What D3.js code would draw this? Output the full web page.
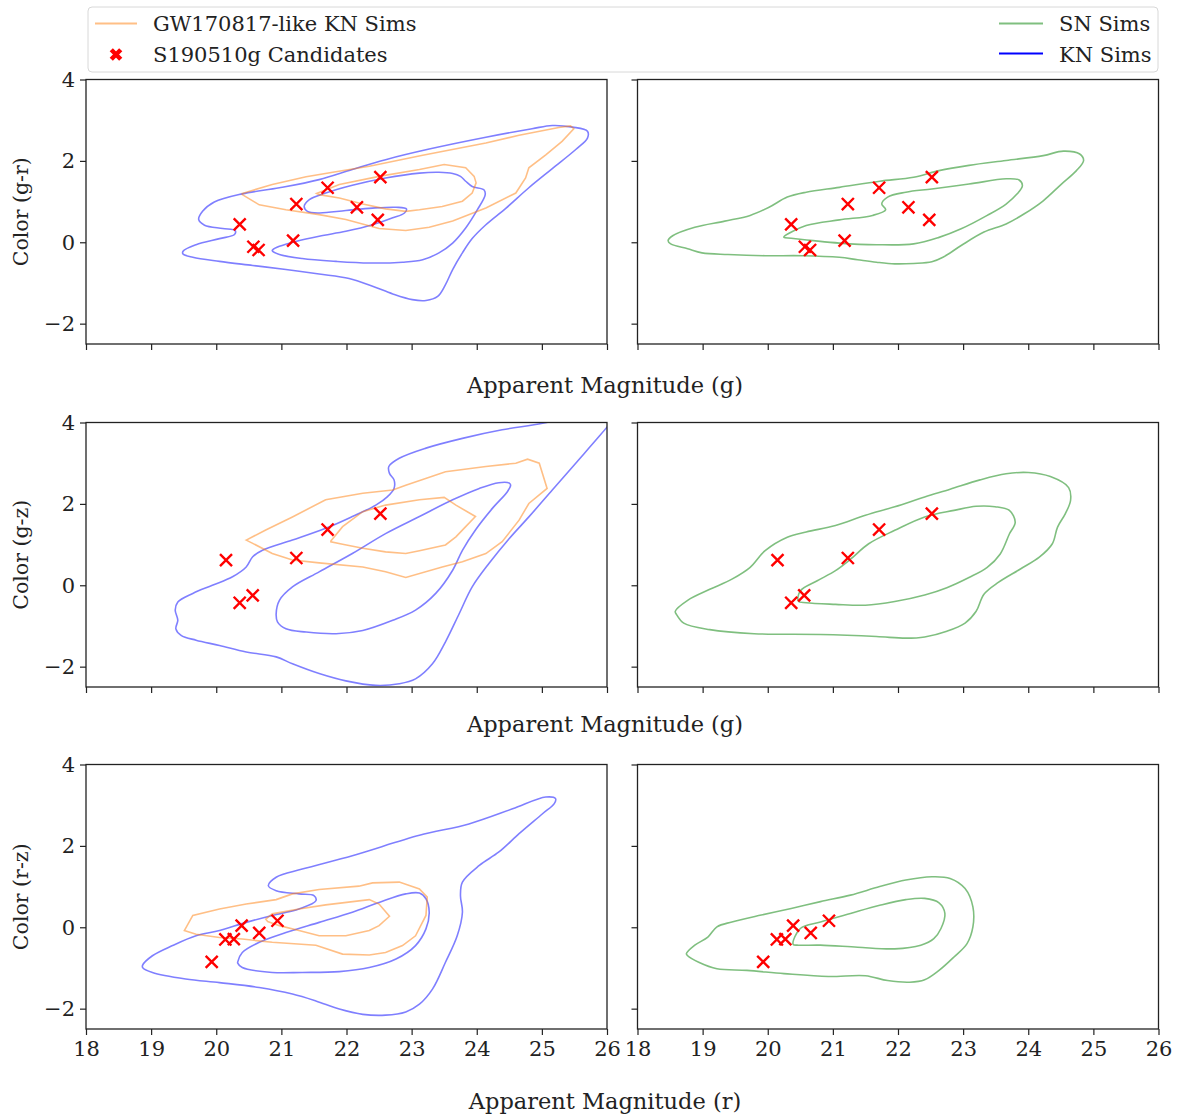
<!DOCTYPE html>
<html>
<head>
<meta charset="utf-8">
<script src="https://cdn.jsdelivr.net/npm/d3@7"></script>
<style>
  body { margin: 0; background: #fff; }
  svg text { font-family: "DejaVu Serif", serif; fill: #222; }
</style>
</head>
<body>
<script>
// axis ticks
var xTicks = [18, 19, 20, 21, 22, 23, 24, 25, 26]
var yTicks = [-2, 0, 2, 4]

// S190510g candidates: [magnitude, color]
var candGR = [[20.36, 0.44], [20.57, -0.11], [20.65, -0.19], [21.18, 0.04], [21.23, 0.94],
              [21.71, 1.34], [22.16, 0.86], [22.48, 0.55], [22.52, 1.60]]
var candGZ = [[20.15, 0.62], [20.36, -0.43], [20.56, -0.25], [21.23, 0.67], [21.71, 1.37], [22.52, 1.76]]
var candRZ = [[19.93, -0.85], [20.14, -0.30], [20.27, -0.29], [20.39, 0.04], [20.66, -0.14], [20.94, 0.16]]

// ---- g vs g-r ----
var knGR_outer = [[19.49,-0.22],[19.69,-0.06],[20.05,0.09],[20.28,0.19],[20.29,0.29],[20.10,0.34],[19.82,0.42],
  [19.73,0.56],[19.79,0.76],[19.97,0.99],[20.40,1.19],[20.97,1.34],[21.58,1.54],[22.09,1.79],[22.60,2.03],
  [23.27,2.29],[24.14,2.58],[24.85,2.79],[25.16,2.87],[25.47,2.83],[25.70,2.73],[25.70,2.56],[25.52,2.28],
  [25.16,1.81],[24.80,1.34],[24.45,0.84],[24.14,0.43],[23.93,0.09],[23.78,-0.26],[23.63,-0.67],[23.52,-1.04],
  [23.40,-1.33],[23.22,-1.43],[23.01,-1.41],[22.71,-1.27],[22.40,-1.08],[22.04,-0.89],[21.58,-0.78],
  [21.07,-0.67],[20.56,-0.57],[20.05,-0.47],[19.64,-0.37],[19.49,-0.29]]
var knGR_inner = [[20.86,-0.21],[20.97,-0.30],[21.32,-0.40],[21.84,-0.47],[22.35,-0.51],[22.86,-0.49],
  [23.17,-0.43],[23.42,-0.26],[23.63,-0.02],[23.83,0.35],[24.01,0.80],[24.13,1.17],[24.11,1.29],[23.93,1.37],
  [23.83,1.50],[23.75,1.62],[23.63,1.69],[23.42,1.72],[23.12,1.70],[22.60,1.58],[22.09,1.40],[21.68,1.21],
  [21.43,1.05],[21.35,0.88],[21.40,0.76],[21.58,0.72],[21.99,0.78],[22.40,0.84],[22.76,0.86],[22.92,0.82],
  [22.89,0.72],[22.71,0.60],[22.40,0.43],[21.99,0.27],[21.58,0.15],[21.22,0.02],[20.97,-0.10],[20.87,-0.18]]
var gwGR_outer = [[20.40,1.20],[20.86,1.42],[21.38,1.61],[21.79,1.72],[22.35,1.87],[23.17,2.14],[24.14,2.44],
  [24.65,2.63],[25.26,2.82],[25.44,2.86],[25.49,2.79],[25.31,2.48],[25.06,2.15],[24.80,1.83],[24.75,1.58],
  [24.60,1.21],[24.14,0.84],[23.63,0.52],[23.27,0.37],[22.91,0.29],[22.50,0.34],[21.99,0.56],[21.58,0.68],
  [21.07,0.80],[20.66,0.92],[20.40,1.17]]
var gwGR_inner = [[21.54,1.20],[21.89,1.42],[22.50,1.62],[23.12,1.79],[23.50,1.91],[23.83,1.83],[23.96,1.62],
  [23.99,1.46],[23.93,1.21],[23.78,1.01],[23.47,0.88],[23.12,0.80],[22.91,0.76],[22.60,0.82],[22.25,0.94],
  [21.89,1.09],[21.58,1.17]]
var snGR_outer = [[18.47,0.04],[18.54,0.16],[18.88,0.37],[19.34,0.52],[19.73,0.66],[20.02,0.86],[20.30,1.11],
  [20.59,1.23],[21.10,1.35],[21.72,1.50],[22.24,1.60],[22.63,1.76],[23.09,1.89],[23.66,2.01],[24.23,2.13],
  [24.54,2.24],[24.79,2.17],[24.85,2.01],[24.74,1.76],[24.51,1.43],[24.23,1.02],[23.94,0.70],[23.66,0.45],
  [23.32,0.25],[22.97,-0.08],[22.69,-0.37],[22.52,-0.48],[22.24,-0.52],[21.95,-0.53],[21.67,-0.49],
  [21.38,-0.43],[21.10,-0.37],[20.53,-0.33],[19.96,-0.33],[19.39,-0.30],[18.99,-0.26],[18.77,-0.16],[18.51,-0.04]]
var snGR_inner = [[20.25,0.14],[20.59,0.41],[21.10,0.55],[21.61,0.66],[21.81,0.80],[21.75,0.94],[21.84,1.11],
  [22.12,1.23],[22.52,1.31],[23.09,1.43],[23.66,1.56],[23.86,1.53],[23.91,1.39],[23.83,1.19],[23.66,0.94],
  [23.37,0.66],[22.97,0.33],[22.63,0.12],[22.24,-0.04],[21.67,-0.06],[21.10,-0.02],[20.70,0.04],[20.36,0.10],
  [20.25,0.12]]

// ---- g vs g-z ----
var knGZ_outer = [[25.42,4.15],[25.01,3.98],[24.39,3.82],[23.78,3.61],[23.22,3.37],[22.81,3.12],[22.65,2.92],
  [22.66,2.75],[22.73,2.59],[22.73,2.38],[22.63,2.18],[22.45,1.97],[22.09,1.69],[21.68,1.40],[21.17,1.11],
  [20.71,0.86],[20.56,0.70],[20.46,0.45],[20.25,0.21],[19.94,0.00],[19.64,-0.20],[19.41,-0.41],[19.37,-0.61],
  [19.41,-0.86],[19.38,-1.07],[19.46,-1.23],[19.69,-1.35],[20.05,-1.48],[20.46,-1.64],[20.92,-1.76],
  [21.17,-1.93],[21.58,-2.17],[21.99,-2.35],[22.45,-2.46],[22.81,-2.42],[23.06,-2.30],[23.32,-1.93],
  [23.52,-1.39],[23.73,-0.70],[23.93,-0.04],[24.19,0.54],[24.50,1.15],[24.80,1.68],[25.16,2.34],[25.52,3.00],
  [25.88,3.66],[26.18,4.23]]
var knGZ_inner = [[24.50,2.51],[24.34,2.52],[24.04,2.38],[23.63,2.10],[23.12,1.69],[22.60,1.27],[22.09,0.78],
  [21.58,0.33],[21.17,-0.04],[20.97,-0.37],[20.92,-0.70],[20.94,-0.90],[21.07,-1.07],[21.38,-1.15],
  [21.84,-1.19],[22.25,-1.11],[22.71,-0.86],[23.06,-0.61],[23.37,-0.20],[23.63,0.37],[23.78,0.86],
  [23.98,1.36],[24.24,1.89],[24.47,2.30],[24.52,2.46]]
var gwGZ_outer = [[20.46,1.11],[20.76,1.36],[21.17,1.68],[21.68,2.10],[22.25,2.26],[22.71,2.34],[22.91,2.46],
  [23.52,2.79],[24.14,2.92],[24.60,3.00],[24.78,3.10],[24.96,3.00],[25.08,2.38],[24.80,2.01],[24.65,1.60],
  [24.39,1.07],[24.14,0.78],[23.78,0.58],[23.47,0.45],[22.91,0.19],[22.60,0.33],[22.25,0.45],[21.58,0.55],
  [21.17,0.62],[20.86,0.78],[20.56,1.03]]
var gwGZ_inner = [[21.76,1.09],[21.94,1.44],[22.25,1.81],[22.60,1.97],[23.12,2.10],[23.50,2.16],[23.68,1.97],
  [23.98,1.69],[23.83,1.44],[23.68,1.19],[23.52,0.99],[23.12,0.85],[22.91,0.78],[22.60,0.82],[22.25,0.91],
  [21.94,1.01],[21.76,1.07]]
var snGZ_outer = [[18.58,-0.64],[18.77,-0.37],[19.11,-0.10],[19.45,0.15],[19.73,0.44],[19.96,0.85],[20.30,1.18],
  [20.59,1.31],[21.04,1.47],[21.50,1.72],[21.95,1.93],[22.41,2.17],[22.80,2.36],[23.26,2.59],[23.66,2.74],
  [24.00,2.77],[24.34,2.67],[24.62,2.40],[24.65,2.09],[24.57,1.76],[24.45,1.43],[24.37,1.02],[24.17,0.69],
  [23.88,0.40],[23.54,0.07],[23.32,-0.22],[23.20,-0.64],[23.03,-0.93],[22.75,-1.13],[22.41,-1.27],
  [22.12,-1.30],[21.67,-1.26],[20.81,-1.21],[19.79,-1.19],[19.11,-1.09],[18.71,-0.93],[18.60,-0.72]]
var snGZ_inner = [[20.47,-0.39],[20.50,-0.14],[20.76,0.11],[21.04,0.36],[21.27,0.64],[21.55,1.02],[21.95,1.35],
  [22.41,1.68],[22.86,1.84],[23.20,1.94],[23.49,1.93],[23.71,1.84],[23.80,1.55],[23.71,1.26],[23.57,0.77],
  [23.37,0.44],[23.09,0.19],[22.75,-0.06],[22.41,-0.24],[21.95,-0.40],[21.50,-0.49],[21.04,-0.47],[20.59,-0.43]]

// ---- r vs r-z ----
var knRZ_outer = [[18.87,-0.93],[19.02,-0.70],[19.33,-0.45],[19.69,-0.21],[20.05,-0.08],[20.46,0.12],[20.86,0.29],
  [21.27,0.45],[21.53,0.65],[21.50,0.78],[21.27,0.82],[20.92,0.90],[20.80,1.02],[20.92,1.23],[21.32,1.43],
  [22.09,1.76],[23.12,2.26],[23.88,2.54],[24.55,2.91],[25.06,3.20],[25.21,3.16],[25.19,3.04],[25.01,2.79],
  [24.65,2.30],[24.34,1.85],[24.04,1.52],[23.78,1.11],[23.75,0.78],[23.78,0.37],[23.70,-0.21],[23.52,-0.86],
  [23.32,-1.52],[23.12,-1.89],[22.91,-2.08],[22.60,-2.16],[22.25,-2.14],[21.89,-2.01],[21.53,-1.81],
  [21.17,-1.64],[20.66,-1.48],[20.05,-1.36],[19.53,-1.27],[19.02,-1.11],[18.87,-0.99]]
var knRZ_inner = [[20.33,-0.85],[20.40,-0.62],[20.66,-0.37],[21.07,-0.13],[21.58,0.12],[22.09,0.37],[22.50,0.61],
  [22.91,0.82],[23.12,0.84],[23.22,0.70],[23.27,0.37],[23.22,-0.04],[23.06,-0.45],[22.76,-0.78],[22.35,-0.99],
  [21.89,-1.09],[21.32,-1.11],[20.86,-1.11],[20.40,-0.99],[20.33,-0.88]]
var gwRZ_outer = [[19.51,-0.08],[19.64,0.29],[20.05,0.45],[20.46,0.57],[20.92,0.68],[21.17,0.82],[21.58,0.93],
  [22.19,1.01],[22.40,1.09],[22.81,1.11],[23.12,0.94],[23.24,0.74],[23.22,0.29],[23.06,-0.21],[22.86,-0.45],
  [22.60,-0.62],[22.35,-0.68],[21.94,-0.66],[21.53,-0.44],[20.86,-0.37],[20.40,-0.29],[20.05,-0.25],[19.69,-0.17]]
var gwRZ_inner = [[20.76,0.20],[20.86,0.33],[21.27,0.45],[21.68,0.55],[22.35,0.68],[22.50,0.57],[22.66,0.27],
  [22.50,0.04],[22.35,-0.08],[21.99,-0.21],[21.58,-0.21],[21.27,-0.08],[20.97,0.04],[20.79,0.14]]
var snRZ_outer = [[18.75,-0.65],[18.88,-0.44],[19.08,-0.24],[19.22,0.01],[19.45,0.13],[19.90,0.30],[20.36,0.46],
  [20.81,0.63],[21.27,0.79],[21.72,1.00],[22.12,1.16],[22.52,1.24],[22.80,1.20],[23.03,0.95],[23.15,0.50],
  [23.15,0.01],[23.06,-0.40],[22.86,-0.73],[22.63,-1.06],[22.41,-1.29],[22.18,-1.35],[21.84,-1.31],
  [21.50,-1.19],[20.93,-1.21],[20.25,-1.14],[19.68,-1.06],[19.22,-1.02],[18.94,-0.86],[18.77,-0.70]]
var snRZ_inner = [[20.39,-0.42],[20.50,-0.03],[20.81,0.13],[21.27,0.34],[21.72,0.54],[22.12,0.68],[22.41,0.71],
  [22.63,0.60],[22.72,0.34],[22.66,-0.03],[22.55,-0.28],[22.35,-0.44],[21.95,-0.53],[21.38,-0.49],
  [20.81,-0.44],[20.47,-0.44]]

var rows = [
  {ylabel: "Color (g-r)", xlabel: "Apparent Magnitude (g)", cand: candGR,
   kn: [knGR_outer, knGR_inner], knOpen: [false, false], gw: [gwGR_outer, gwGR_inner], sn: [snGR_outer, snGR_inner]},
  {ylabel: "Color (g-z)", xlabel: "Apparent Magnitude (g)", cand: candGZ,
   kn: [knGZ_outer, knGZ_inner], knOpen: [true, false], gw: [gwGZ_outer, gwGZ_inner], sn: [snGZ_outer, snGZ_inner]},
  {ylabel: "Color (r-z)", xlabel: "Apparent Magnitude (r)", cand: candRZ,
   kn: [knRZ_outer, knRZ_inner], knOpen: [false, false], gw: [gwRZ_outer, gwRZ_inner], sn: [snRZ_outer, snRZ_inner]}
]

var blue = "rgb(0,0,255)", orange = "#ff7f0e", green = "#008000"

var W = 521, H = 264.5
var colX = [86, 637.5]
var rowY = [79.5, 422.5, 764.5]
var titleY = [392.5, 731.5, 1109]

var svg = d3.select("body").append("svg").attr("width", 1180).attr("height", 1117)

var x = d3.scaleLinear().domain([18, 26]).range([0, W])
var y = d3.scaleLinear().domain([-2.5, 4]).range([H, 0])

var smooth = d3.line().curve(d3.curveCatmullRomClosed.alpha(0.5)).x(function(d) { return x(d[0]) }).y(function(d) { return y(d[1]) })
var smoothOpen = d3.line().curve(d3.curveCatmullRom.alpha(0.5)).x(function(d) { return x(d[0]) }).y(function(d) { return y(d[1]) })
var poly = d3.line().curve(d3.curveLinearClosed).x(function(d) { return x(d[0]) }).y(function(d) { return y(d[1]) })
var cross = d3.symbol().type(d3.symbolTimes).size(96)

svg.append("clipPath").attr("id", "clip").append("rect").attr("width", W).attr("height", H)

rows.forEach(function(row, ri) {
  [0, 1].forEach(function(ci) {
    var g = svg.append("g").attr("transform", "translate(" + colX[ci] + "," + rowY[ri] + ")")
    var plot = g.append("g").attr("clip-path", "url(#clip)")

    if (ci == 0) {
      row.kn.forEach(function(c, k) {
        plot.append("path").attr("d", row.knOpen[k] ? smoothOpen(c) : smooth(c))
          .attr("fill", "none").attr("stroke", blue).attr("stroke-opacity", 0.5).attr("stroke-width", 1.6)
      })
      row.gw.forEach(function(c) {
        plot.append("path").attr("d", poly(c))
          .attr("fill", "none").attr("stroke", orange).attr("stroke-opacity", 0.5).attr("stroke-width", 1.6)
      })
    } else {
      row.sn.forEach(function(c) {
        plot.append("path").attr("d", smooth(c))
          .attr("fill", "none").attr("stroke", green).attr("stroke-opacity", 0.5).attr("stroke-width", 1.6)
      })
    }

    plot.selectAll(".cand").data(row.cand).enter().append("path")
      .attr("transform", function(d) { return "translate(" + x(d[0]) + "," + y(d[1]) + ")" })
      .attr("d", cross).attr("fill", "none").attr("stroke", "red").attr("stroke-width", 2.4)

    // axes
    var xa = d3.axisBottom(x).tickValues(xTicks).tickSize(6).tickPadding(6)
    if (ri < 2) xa.tickFormat("")
    var ya = d3.axisLeft(y).tickValues(yTicks).tickSize(6).tickPadding(5)
      .tickFormat(function(d) { return d < 0 ? "\u2212" + Math.abs(d) : d })
    if (ci == 1) ya.tickFormat("")

    var gx = g.append("g").attr("transform", "translate(0," + H + ")").call(xa)
    var gy = g.append("g").call(ya)
    ;[gx, gy].forEach(function(a) {
      a.select(".domain").remove()
      a.selectAll("line").attr("stroke", "#222").attr("stroke-width", 1.2)
      a.selectAll("text").attr("font-size", 21).attr("font-family", "DejaVu Serif").attr("fill", "#222")
    })

    g.append("rect").attr("width", W).attr("height", H)
      .attr("fill", "none").attr("stroke", "#222").attr("stroke-width", 1.3)
  })

  svg.append("text").attr("x", 605).attr("y", titleY[ri]).attr("text-anchor", "middle")
    .attr("font-size", 22.5).text(row.xlabel)

  svg.append("text")
    .attr("transform", "translate(28," + (rowY[ri] + H / 2) + ") rotate(-90)")
    .attr("text-anchor", "middle").attr("font-size", 20.5).text(row.ylabel)
})

// legend
var leg = svg.append("g")
leg.append("rect").attr("x", 88).attr("y", 7).attr("width", 1070).attr("height", 65).attr("rx", 4)
  .attr("fill", "white").attr("stroke", "#d8d8d8").attr("stroke-width", 1)

leg.append("line").attr("x1", 95).attr("x2", 137).attr("y1", 23.5).attr("y2", 23.5)
  .attr("stroke", orange).attr("stroke-opacity", 0.5).attr("stroke-width", 2)
leg.append("text").attr("x", 153).attr("y", 30.5).attr("font-size", 21).text("GW170817-like KN Sims")

leg.append("path").attr("transform", "translate(116,54.5)").attr("d", d3.symbol().type(d3.symbolTimes).size(60))
  .attr("stroke", "red").attr("stroke-width", 4.5).attr("fill", "none")
leg.append("text").attr("x", 153).attr("y", 61.5).attr("font-size", 21).text("S190510g Candidates")

leg.append("line").attr("x1", 999).attr("x2", 1043).attr("y1", 23.5).attr("y2", 23.5)
  .attr("stroke", green).attr("stroke-opacity", 0.5).attr("stroke-width", 2)
leg.append("text").attr("x", 1059).attr("y", 30.5).attr("font-size", 21).text("SN Sims")

leg.append("line").attr("x1", 999).attr("x2", 1043).attr("y1", 53.5).attr("y2", 53.5)
  .attr("stroke", blue).attr("stroke-width", 2)
leg.append("text").attr("x", 1059).attr("y", 61.5).attr("font-size", 21).text("KN Sims")
</script>
</body>
</html>
